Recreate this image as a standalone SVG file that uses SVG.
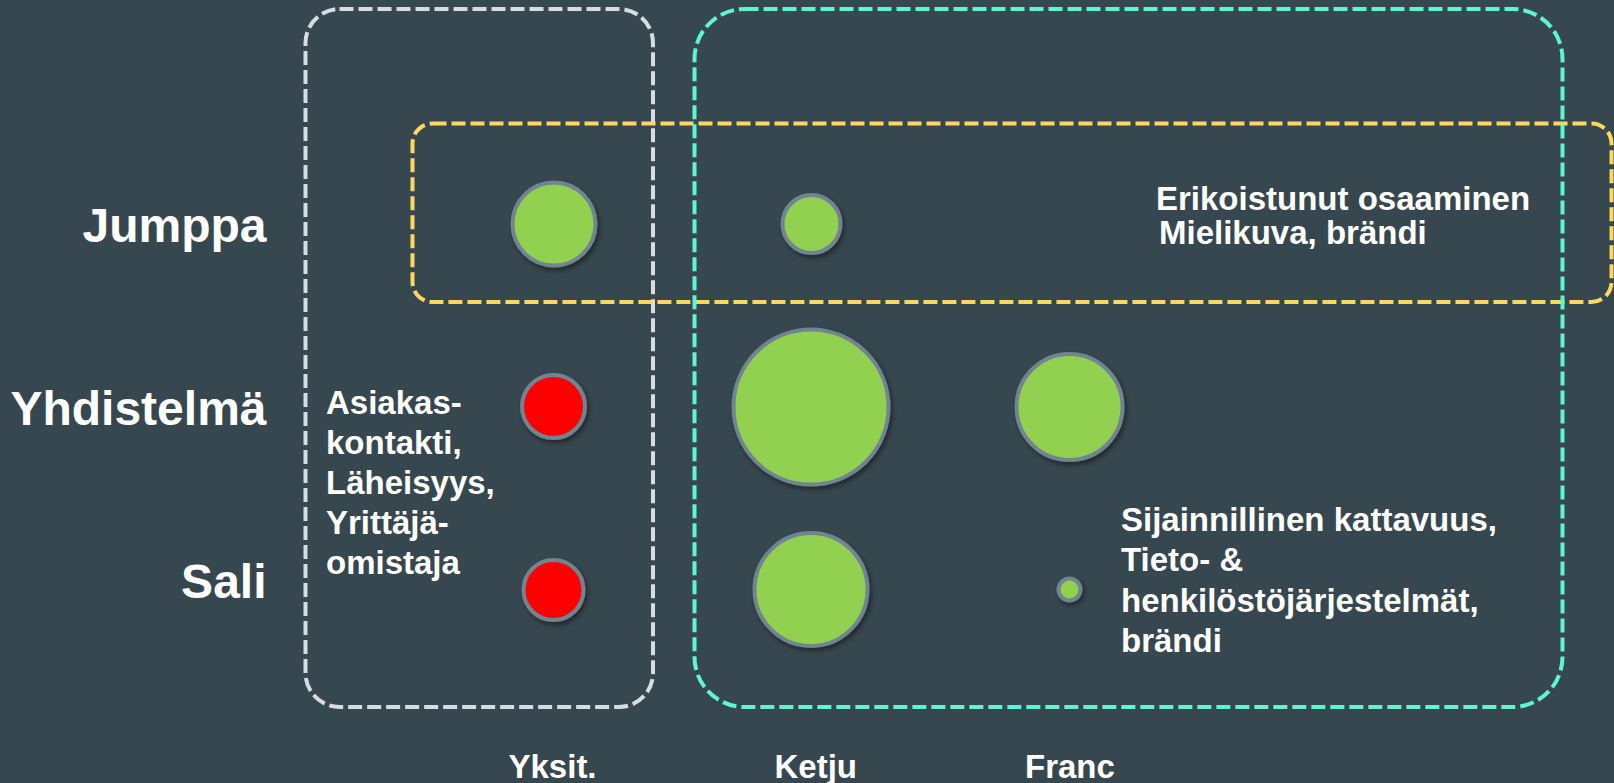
<svg xmlns="http://www.w3.org/2000/svg" width="1614" height="783" viewBox="0 0 1614 783">
  <defs>
    <filter id="shadow" x="-30%" y="-30%" width="160%" height="160%">
      <feDropShadow dx="2" dy="3" stdDeviation="2.5" flood-color="#000" flood-opacity="0.45"/>
    </filter>
  </defs>
  <style>
    .bg { fill: #37474f; }
    .group { fill: none; stroke-width: 4; stroke-dasharray: 14 5; }
    .g-grey { stroke: #d5dce2; }
    .g-yellow { stroke: #ffd75e; }
    .g-cyan { stroke: #5ef5d3; }
    .dot { stroke: #6f8492; stroke-width: 4; filter: url(#shadow); }
    .green { fill: #92d050; }
    .red { fill: #ff0000; }
    text { font-family: "Liberation Sans", Arial, sans-serif; font-weight: bold; fill: #ffffff; }
    .row { font-size: 48px; text-anchor: end; }
    .col { font-size: 33px; }
    .note { font-size: 33px; }
  </style>

  <rect class="bg" x="0" y="0" width="1614" height="783"/>

  <!-- Grouping frames -->
  <g id="frames">
    <rect id="frame-yksit" class="group g-grey" x="305.5" y="9" width="347.5" height="698" rx="34"/>
    <rect id="frame-jumppa" class="group g-yellow" x="412.5" y="123.5" width="1199" height="178.5" rx="20"/>
    <rect id="frame-ketju-franc" class="group g-cyan" x="694.5" y="9" width="868" height="698" rx="50"/>
  </g>

  <!-- Row labels -->
  <g id="row-labels">
    <text id="row-jumppa" class="row" x="266.5" y="241.5">Jumppa</text>
    <text id="row-yhdistelma" class="row" x="266.5" y="425">Yhdistelmä</text>
    <text id="row-sali" class="row" x="266.5" y="598">Sali</text>
  </g>

  <!-- Column labels -->
  <g id="col-labels">
    <text id="col-yksit" class="col" x="508.5" y="778">Yksit.</text>
    <text id="col-ketju" class="col" x="774.5" y="778">Ketju</text>
    <text id="col-franc" class="col" x="1025" y="778">Franc</text>
  </g>

  <!-- Bubbles -->
  <g id="bubble-jumppa-yksit"><circle class="dot green" cx="554" cy="224" r="41.5"/></g>
  <g id="bubble-jumppa-ketju"><circle class="dot green" cx="811.5" cy="224" r="29"/></g>
  <g id="bubble-yhdistelma-yksit"><circle class="dot red" cx="553.5" cy="406.5" r="31.5"/></g>
  <g id="bubble-yhdistelma-ketju"><circle class="dot green" cx="811" cy="407" r="77.5"/></g>
  <g id="bubble-yhdistelma-franc"><circle class="dot green" cx="1069.5" cy="407" r="53"/></g>
  <g id="bubble-sali-yksit"><circle class="dot red" cx="553.5" cy="590" r="30"/></g>
  <g id="bubble-sali-ketju"><circle class="dot green" cx="811" cy="589.5" r="56.5"/></g>
  <g id="bubble-sali-franc"><circle class="dot green" cx="1069.5" cy="589.5" r="11"/></g>

  <!-- Annotations -->
  <g id="note-jumppa">
    <text class="note" x="1156" y="210">Erikoistunut osaaminen</text>
    <text class="note" x="1159" y="244">Mielikuva, brändi</text>
  </g>
  <g id="note-yksit">
    <text class="note" x="326" y="413.5">Asiakas-</text>
    <text class="note" x="326" y="453.5">kontakti,</text>
    <text class="note" x="326" y="493.5">Läheisyys,</text>
    <text class="note" x="326" y="533.5">Yrittäjä-</text>
    <text class="note" x="326" y="573.5">omistaja</text>
  </g>
  <g id="note-franc">
    <text class="note" x="1121" y="531">Sijainnillinen kattavuus,</text>
    <text class="note" x="1121" y="571">Tieto- &amp;</text>
    <text class="note" x="1121" y="611.5">henkilöstöjärjestelmät,</text>
    <text class="note" x="1121" y="651.5">brändi</text>
  </g>
</svg>
